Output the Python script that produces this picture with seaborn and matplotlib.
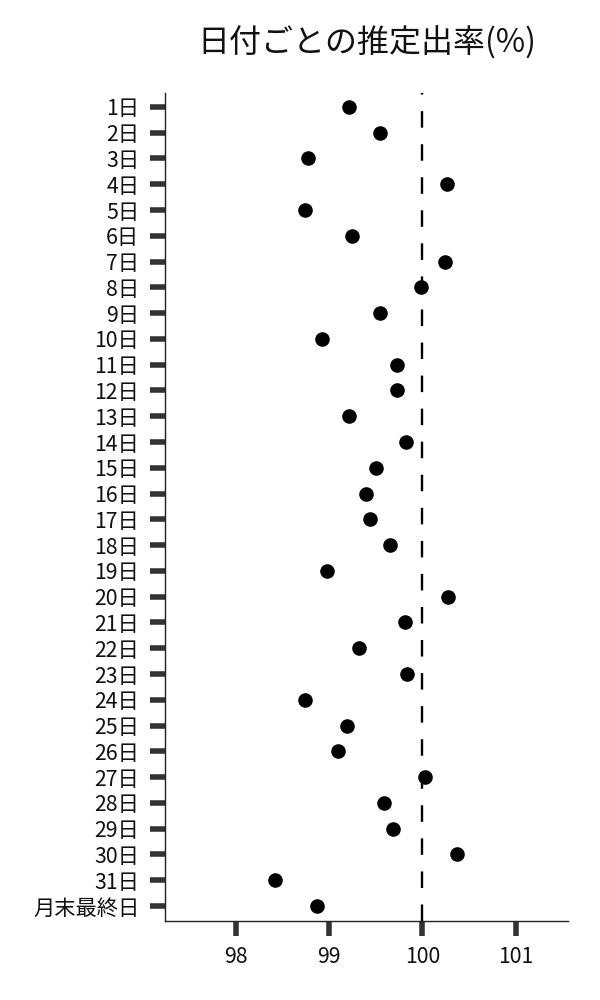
import matplotlib
matplotlib.use("Agg")
import matplotlib.pyplot as plt
import seaborn as sns
import pandas as pd

days = [f"{i}日" for i in range(1, 32)] + ["月末最終日"]
rates = [99.21, 99.55, 98.78, 100.26, 98.74, 99.25, 100.24, 99.99, 99.55, 98.93,
         99.73, 99.73, 99.21, 99.82, 99.50, 99.40, 99.44, 99.65, 98.98, 100.27,
         99.81, 99.32, 99.83, 98.74, 99.19, 99.10, 100.03, 99.59, 99.68, 100.37,
         98.42, 98.87]
xticks = [98, 99, 100, 101]
reference = 100
title = "日付ごとの推定出率(%)"

sns.set_theme(style="white")
plt.rcParams['font.family'] = ['Noto Sans CJK JP', 'DejaVu Sans']

df = pd.DataFrame({"day": days, "rate": rates})

fig = plt.figure(figsize=(6, 10), dpi=100)
ax = fig.add_axes([0.275, 0.0793, 0.6717, 0.8277])

sns.stripplot(data=df, x="rate", y="day", order=days, orient="h", jitter=False,
              color="black", size=10.5, linewidth=0, ax=ax, zorder=3)
ax.axvline(reference, color="black", lw=1.7, dashes=(7, 7), zorder=2)

ax.set_xlim(97.243, 101.56)
ax.set_ylim(31.57, -0.54)
ax.set_xticks(xticks)
ax.set_xticklabels([str(t) for t in xticks])
ax.set_xlabel("")
ax.set_ylabel("")

for s in ["top", "right"]:
    ax.spines[s].set_visible(False)
for s in ["left", "bottom"]:
    ax.spines[s].set_color("#222222")
    ax.spines[s].set_linewidth(1.0)

ax.tick_params(axis="both", which="major", left=True, bottom=True, direction="out",
               length=10.5, width=4, color="#333333",
               labelsize=15.3, labelcolor="#111111")
ax.tick_params(axis="y", pad=8)
ax.tick_params(axis="x", pad=7.5)

fig.text(0.611, 0.957, title, ha="center", va="center", fontsize=23, color="#111111")

fig.savefig("out.png", dpi=100)
